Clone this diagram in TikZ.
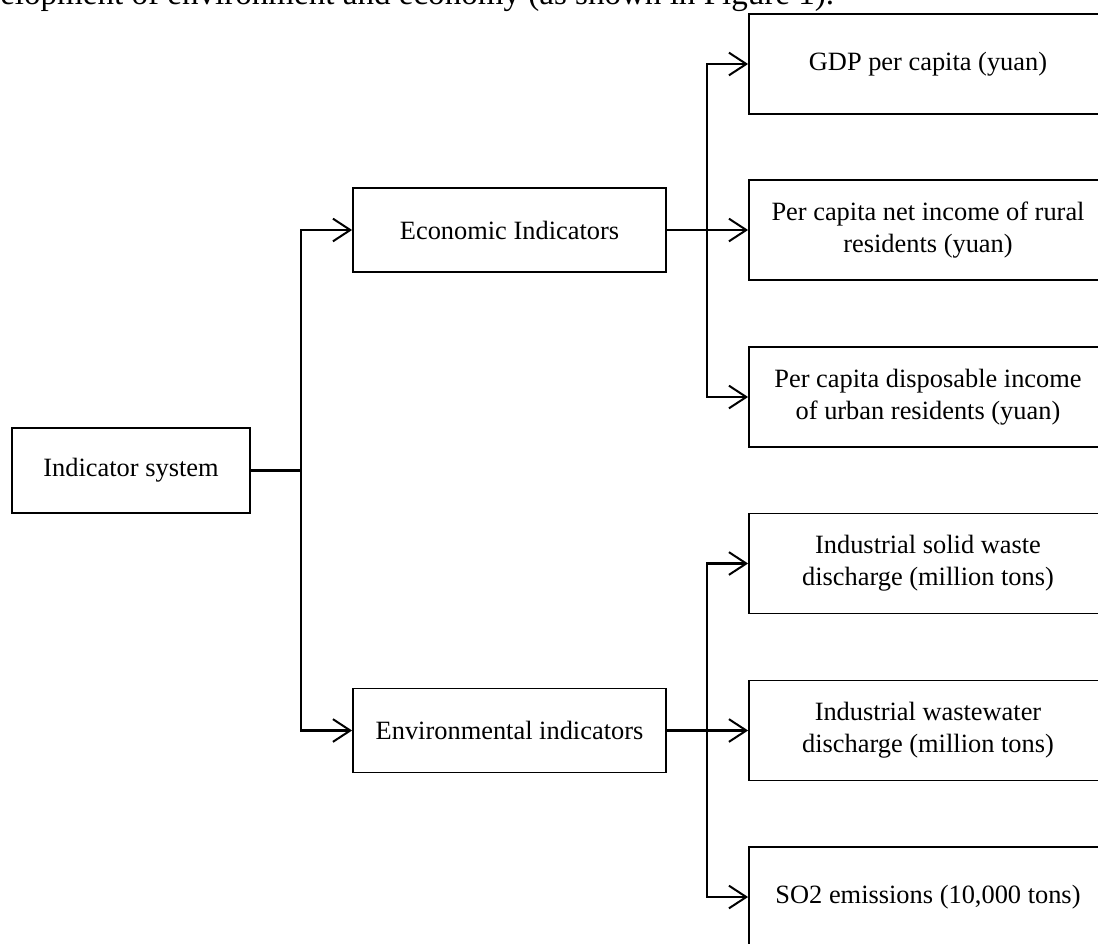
\documentclass[tikz,border=0pt]{standalone}
\usepackage{fontspec}
\setmainfont{Liberation Serif}
\usetikzlibrary{arrows.meta}
\begin{document}
\begin{tikzpicture}[x=0.75pt,y=-0.75pt,
  box/.style={draw,line width=1.35pt,inner sep=0pt,align=center,font=\fontsize{19.8}{24}\selectfont},
  leaf/.style={box,minimum width=358*0.75pt,minimum height=100*0.75pt},
  mid/.style={box,minimum width=313*0.75pt,minimum height=84*0.75pt},
  conn/.style={line width=1.8pt},
  arr/.style={conn,-{Straight Barb[length=13pt,width=17pt,line width=1.5pt]}}]
\useasboundingbox (0,0) rectangle (1098,943);
\node[anchor=base west,inner sep=0pt,font=\fontsize{24.8}{30}\selectfont] (cap) at (0,4) {elopment of environment and economy (as shown in Figure 1).};
\node[box,minimum width=237.5*0.75pt,minimum height=85*0.75pt] (sys) at (131,470.5) {Indicator system};
\node[mid] (econ) at (509.5,230) {Economic Indicators};
\node[mid] (env) at (509.5,730.5) {Environmental indicators};
\node[leaf] (gdp) at (928,64) {GDP per capita (yuan)};
\node[leaf] (rural) at (928,230) {Per capita net income of rural\\residents (yuan)};
\node[leaf] (urban) at (928,397) {Per capita disposable income\\of urban residents (yuan)};
\node[leaf] (solid) at (928,563.5) {Industrial solid waste\\discharge (million tons)};
\node[leaf] (water) at (928,730.5) {Industrial wastewater\\discharge (million tons)};
\node[leaf] (so2) at (928,897) {SO2 emissions (10,000 tons)};
\coordinate (b1) at (301,0);
\coordinate (b2) at (707,0);
\draw[conn] (sys.east) -- (b1|-sys.east);
\draw[arr] (b1|-sys.east) |- (econ.west);
\draw[arr] (b1|-sys.east) |- (env.west);
\draw[arr] (econ.east) -- (rural.west);
\draw[arr] (b2|-econ.east) |- (gdp.west);
\draw[arr] (b2|-econ.east) |- (urban.west);
\draw[arr] (env.east) -- (water.west);
\draw[arr] (b2|-env.east) |- (solid.west);
\draw[arr] (b2|-env.east) |- (so2.west);
\end{tikzpicture}
\end{document}
